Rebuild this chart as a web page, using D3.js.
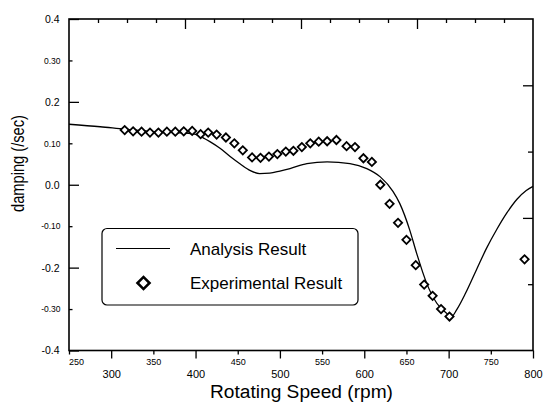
<!DOCTYPE html>
<html>
<head>
<meta charset="utf-8">
<script src="https://cdn.jsdelivr.net/npm/d3@7"></script>
<style>
  html, body { margin: 0; padding: 0; background: #fff; }
  svg { display: block; font-family: "Liberation Sans", Arial, Helvetica, sans-serif; }
</style>
</head>
<body>
<svg id="chart" width="545" height="404"></svg>
<script>
// Analysis result: computed damping vs rotating speed
const analysisRpm = [250, 287, 316, 346, 376, 399, 411, 417, 429, 441, 453, 465, 476, 488, 500, 512,
  532, 556, 583, 603, 619, 634, 642, 654, 662, 674, 686, 698, 703, 710, 720, 733, 745, 757, 769,
  781, 792, 800];
const analysisDamping = [0.146, 0.140, 0.134, 0.129, 0.126, 0.122, 0.111, 0.104, 0.088, 0.068, 0.050,
  0.034, 0.027, 0.028, 0.033, 0.039, 0.051, 0.055, 0.051, 0.039, 0.019, -0.016, -0.045, -0.110,
  -0.165, -0.238, -0.286, -0.311, -0.319, -0.300, -0.262, -0.205, -0.153, -0.108, -0.068, -0.035,
  -0.014, -0.004];

// Experimental result: measured damping
const expRpm = [316, 326, 336, 346, 356, 366, 376, 386, 396, 406, 415, 425, 436, 446, 456, 467, 477,
  487, 497, 507, 516, 526, 536, 546, 556, 567, 579, 589, 599, 609, 619, 630, 640, 650, 661, 671,
  681, 691, 701, 790];
const expDamping = [0.132, 0.129, 0.128, 0.126, 0.126, 0.128, 0.128, 0.129, 0.130, 0.122, 0.126,
  0.121, 0.114, 0.100, 0.083, 0.066, 0.065, 0.068, 0.074, 0.080, 0.082, 0.091, 0.100, 0.104, 0.105,
  0.108, 0.093, 0.091, 0.064, 0.055, 0.000, -0.046, -0.092, -0.133, -0.194, -0.241, -0.268,
  -0.300, -0.318, -0.180];

// Axis ticks and labels
const xMajorTicks = [300, 400, 500, 600, 700, 800];
const xMinorTicks = [250, 350, 450, 550, 650, 750];
const yMajorTicks = [0.4, 0.2, 0.0, -0.2, -0.4];
const yMajorLabels = ["0.4", "0.2", "0.0", "-0.2", "-0.4"];
const yMinorTicks = [0.3, 0.1, -0.1, -0.3];
const yMinorLabels = ["0.30", "0.10", "-0.10", "-0.30"];
const xTitle = "Rotating Speed (rpm)";
const yTitle = "damping (/sec)";
const legendLabels = ["Analysis Result", "Experimental Result"];

const svg = d3.select("#chart");

const x = d3.scaleLinear().domain([250, 800]).range([69, 533]);
const y = d3.scaleLinear().domain([-0.4, 0.4]).range([350.5, 19]);

// Secondary frame scales (top: 16 divisions, right: 5 divisions)
const xTop = d3.scaleLinear().domain([0, 16]).range(x.range());
const yRight = d3.scaleLinear().domain([0, 5]).range(y.range());

function styleAxis(g) {
  g.select(".domain").remove();
  g.selectAll(".tick line").attr("stroke", "#000").attr("stroke-width", 1.3);
  g.selectAll(".tick text").attr("fill", "#000").attr("font-family", "'Liberation Sans', Arial, sans-serif");
}

// Bottom axis: large labels on hundreds, small raised labels on fifties
svg.append("g")
  .attr("transform", `translate(0,${y(-0.4)})`)
  .call(d3.axisBottom(x).tickValues(xMajorTicks).tickSize(8).tickPadding(12).tickFormat(d3.format("d")))
  .call(styleAxis)
  .call(g => g.selectAll(".tick text").attr("font-size", 11));

svg.append("g")
  .attr("transform", `translate(0,${y(-0.4)})`)
  .call(d3.axisBottom(x).tickValues(xMinorTicks).tickSize(4).tickPadding(4).tickFormat(d3.format("d")))
  .call(styleAxis)
  .call(g => g.selectAll(".tick text").attr("font-size", 9).attr("dx", d => d === 250 ? 7 : 0));

// Left axis: ticks point inward
svg.append("g")
  .attr("transform", `translate(${x(250)},0)`)
  .call(d3.axisLeft(y).tickValues(yMajorTicks).tickSize(-10).tickPadding(9.5)
    .tickFormat((d, i) => yMajorLabels[i]))
  .call(styleAxis)
  .call(g => g.selectAll(".tick text").attr("font-size", 10.5));

svg.append("g")
  .attr("transform", `translate(${x(250)},0)`)
  .call(d3.axisLeft(y).tickValues(yMinorTicks).tickSize(-3.5).tickPadding(8.5)
    .tickFormat((d, i) => yMinorLabels[i]))
  .call(styleAxis)
  .call(g => g.selectAll(".tick text").attr("font-size", 8.5));

// Top frame ticks
svg.append("g")
  .attr("transform", `translate(0,${y(0.4)})`)
  .call(d3.axisTop(xTop).tickValues(d3.range(1, 16)).tickSizeInner(0).tickFormat(""))
  .call(styleAxis)
  .call(g => g.selectAll(".tick line").attr("y2", d => d % 4 === 0 ? 10 : 4));

// Right frame ticks
svg.append("g")
  .attr("transform", `translate(${x(800)},0)`)
  .call(d3.axisRight(yRight).tickValues([1, 2, 3, 4]).tickSizeInner(0).tickFormat(""))
  .call(styleAxis)
  .call(g => g.selectAll(".tick line").attr("x2", d => d % 2 === 0 ? -10 : -5));

// Plot frame
svg.append("rect")
  .attr("x", x(250)).attr("y", y(0.4))
  .attr("width", x(800) - x(250)).attr("height", y(-0.4) - y(0.4))
  .attr("fill", "none").attr("stroke", "#000").attr("stroke-width", 1.6);

// Axis titles
svg.append("text")
  .attr("x", 301.5).attr("y", 397.5)
  .attr("text-anchor", "middle")
  .attr("font-size", 18)
  .attr("textLength", 183)
  .attr("lengthAdjust", "spacingAndGlyphs")
  .attr("fill", "#000")
  .text(xTitle);

svg.append("text")
  .attr("transform", "translate(24,163.5) rotate(-90)")
  .attr("text-anchor", "middle")
  .attr("font-size", 19)
  .attr("textLength", 97)
  .attr("lengthAdjust", "spacingAndGlyphs")
  .attr("fill", "#000")
  .text(yTitle);

// Analysis curve
const analysis = analysisRpm.map((r, i) => ({ rpm: r, v: analysisDamping[i] }));
const line = d3.line().x(d => x(d.rpm)).y(d => y(d.v)).curve(d3.curveMonotoneX);
svg.append("path")
  .datum(analysis)
  .attr("d", line)
  .attr("fill", "none")
  .attr("stroke", "#000")
  .attr("stroke-width", 1.3);

// Experimental diamonds
const experimental = expRpm.map((r, i) => ({ rpm: r, v: expDamping[i] }));
const diamond = d3.symbol().type(d3.symbolSquare).size(34);
svg.append("g")
  .selectAll("path")
  .data(experimental)
  .join("path")
  .attr("d", diamond)
  .attr("transform", d => `translate(${x(d.rpm)},${y(d.v)}) rotate(45)`)
  .attr("fill", "#fff")
  .attr("stroke", "#000")
  .attr("stroke-width", 1.8);

// Legend
const legend = svg.append("g");
legend.append("rect")
  .attr("x", 102).attr("y", 228.5)
  .attr("width", 256).attr("height", 76.5)
  .attr("rx", 5).attr("ry", 5)
  .attr("fill", "#fff")
  .attr("stroke", "#000")
  .attr("stroke-width", 1.2);
legend.append("line")
  .attr("x1", 116).attr("x2", 170)
  .attr("y1", 248.5).attr("y2", 248.5)
  .attr("stroke", "#000").attr("stroke-width", 1.2);
legend.append("text")
  .attr("x", 190).attr("y", 255)
  .attr("font-size", 17).attr("fill", "#000")
  .text(legendLabels[0]);
legend.append("path")
  .attr("d", d3.symbol().type(d3.symbolSquare).size(72)())
  .attr("transform", "translate(143.5,283) rotate(45)")
  .attr("fill", "#fff")
  .attr("stroke", "#000")
  .attr("stroke-width", 2.6);
legend.append("text")
  .attr("x", 190).attr("y", 288.5)
  .attr("font-size", 17).attr("fill", "#000")
  .text(legendLabels[1]);
</script>
</body>
</html>
